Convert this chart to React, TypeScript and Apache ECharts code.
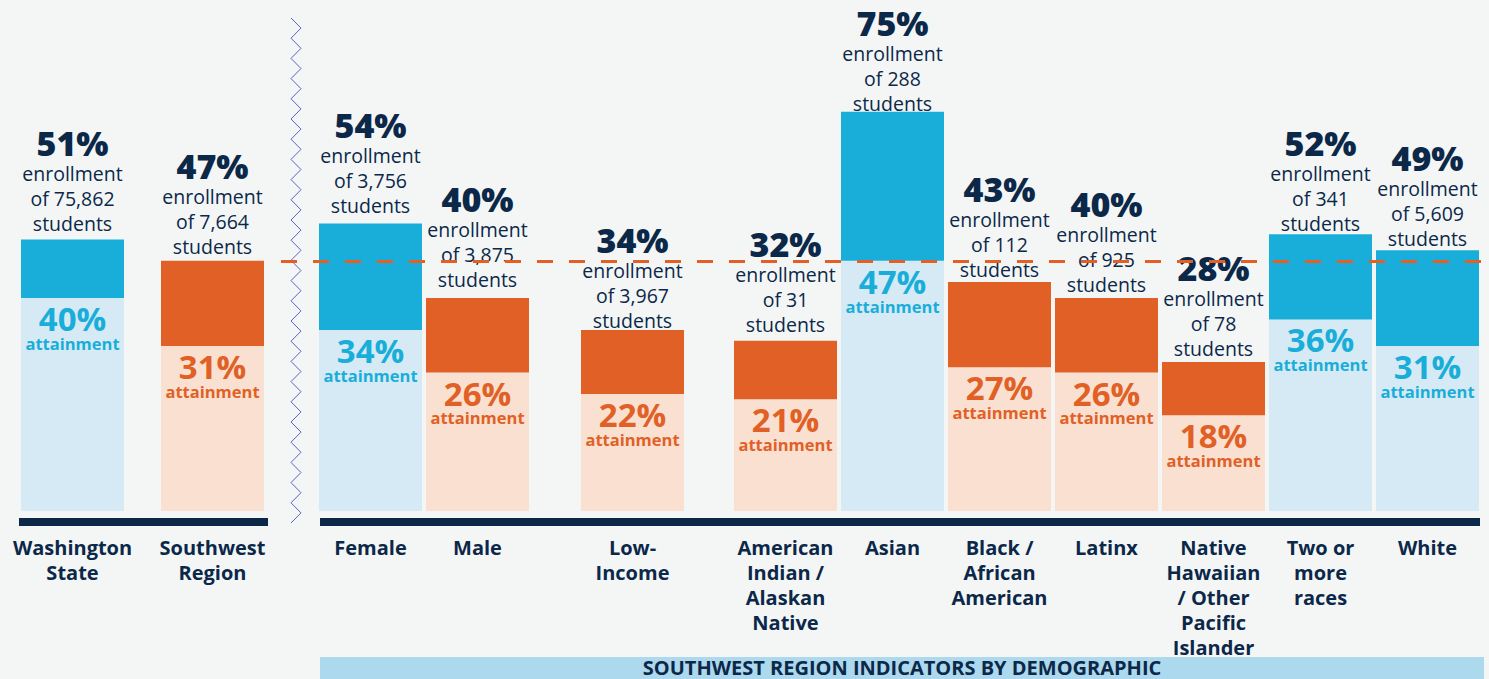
import React, { useEffect, useRef } from "react";
import * as echarts from "echarts";

// ---- data ----
const categories = [
  "Washington\nState",
  "Southwest\nRegion",
  "Female",
  "Male",
  "Low-\nIncome",
  "American\nIndian /\nAlaskan\nNative",
  "Asian",
  "Black /\nAfrican\nAmerican",
  "Latinx",
  "Native\nHawaiian\n/ Other\nPacific\nIslander",
  "Two or\nmore\nraces",
  "White",
];
const enrollmentPct = [51, 47, 54, 40, 34, 32, 75, 43, 40, 28, 52, 49];
const attainmentPct = [40, 31, 34, 26, 22, 21, 47, 27, 26, 18, 36, 31];
const studentCounts = ["75,862", "7,664", "3,756", "3,875", "3,967", "31", "288", "112", "925", "78", "341", "5,609"];
const panelOf = [0, 0, 1, 1, 2, 3, 3, 3, 3, 3, 3, 3];
const regionIndex = 1;
const bannerTitle = "SOUTHWEST REGION INDICATORS BY DEMOGRAPHIC";

// ---- layout / style ----
const panels = [
  { left: 2.5, width: 280 },
  { left: 317, width: 214 },
  { left: 579, width: 107 },
  { left: 732, width: 749 },
];
// hand-placed gap (px) between each bar top and its enrollment caption's last line centre
const enrollLabelGap = [16, 14, 18, 19, 10, 16, 8, 13, 14, 13, 11, 12];
const FONT = "'Open Sans', 'Noto Sans', sans-serif";
const NAVY = "#0c2849";
const BG = "#f4f6f6";
const BLUE = "#19aed9";
const BLUE_LIGHT = "#d5eaf5";
const ORANGE = "#e06026";
const ORANGE_LIGHT = "#fae0d0";
const Y_MAX = 96;
const GRID_TOP = 0;
const GRID_H = 511;

export default function App() {
  const ref = useRef<HTMLDivElement>(null);

  useEffect(() => {
    if (!ref.current) return;
    const chart = echarts.init(ref.current, undefined, { renderer: "svg" });
    const regionVal = enrollmentPct[regionIndex];

    const grids: any[] = [];
    const xAxes: any[] = [];
    const yAxes: any[] = [];
    const series: any[] = [];

    panels.forEach((p, gi) => {
      const idx = categories.map((_, i) => i).filter((i) => panelOf[i] === gi);
      grids.push({ left: p.left, width: p.width, top: GRID_TOP, height: GRID_H, containLabel: false });
      xAxes.push({
        type: "category",
        gridIndex: gi,
        data: idx.map((i) => categories[i]),
        axisLine: { show: false },
        axisTick: { show: false },
        axisLabel: {
          interval: 0,
          color: NAVY,
          fontWeight: "bold",
          fontSize: 20,
          lineHeight: 25,
          margin: 24,
          fontFamily: FONT,
        },
      });
      yAxes.push({ type: "value", gridIndex: gi, min: 0, max: Y_MAX, show: false, splitLine: { show: false } });

      const isHigh = (i: number) => enrollmentPct[i] > regionVal;

      series.push({
        type: "bar",
        xAxisIndex: gi,
        yAxisIndex: gi,
        stack: "s" + gi,
        barWidth: 103,
        z: 2,
        data: idx.map((i) => ({
          value: attainmentPct[i],
          itemStyle: { color: isHigh(i) ? BLUE_LIGHT : ORANGE_LIGHT },
          label: {
            show: true,
            position: "insideTop",
            distance: 4,
            formatter: `{a|${attainmentPct[i]}%}\n{b|attainment}`,
            rich: {
              a: { fontSize: 33, fontWeight: "bold", color: isHigh(i) ? BLUE : ORANGE, lineHeight: 33, fontFamily: FONT, align: "center" },
              b: { fontSize: 16.5, fontWeight: "bold", color: isHigh(i) ? BLUE : ORANGE, lineHeight: 16.5, fontFamily: FONT, align: "center" },
            },
          },
        })),
      });
      series.push({
        type: "bar",
        xAxisIndex: gi,
        yAxisIndex: gi,
        stack: "s" + gi,
        barWidth: 103,
        z: 2,
        data: idx.map((i) => ({
          value: enrollmentPct[i] - attainmentPct[i],
          itemStyle: { color: isHigh(i) ? BLUE : ORANGE },
          label: {
            show: true,
            position: "top",
            distance: 0,
            offset: [0, 12.5 - enrollLabelGap[i]],
            formatter: `{p|${enrollmentPct[i]}%}\n{t|enrollment}\n{t|of ${studentCounts[i]}}\n{t|students}`,
            rich: {
              p: { fontSize: 34, fontWeight: 800, color: NAVY, lineHeight: 36, fontFamily: FONT, align: "center" },
              t: { fontSize: 19.5, color: NAVY, lineHeight: 25, fontFamily: FONT, align: "center" },
            },
          },
        })),
      });
    });

    // reference line grid (Southwest region enrollment)
    const lg = panels.length;
    grids.push({ left: 281, right: 0, top: GRID_TOP, height: GRID_H });
    xAxes.push({ type: "value", gridIndex: lg, min: 0, max: 1, show: false });
    yAxes.push({ type: "value", gridIndex: lg, min: 0, max: Y_MAX, show: false, splitLine: { show: false } });
    series.push({
      type: "scatter",
      xAxisIndex: lg,
      yAxisIndex: lg,
      symbolSize: 0,
      z: 5,
      silent: true,
      data: [[0.5, regionVal]],
      markLine: {
        silent: true,
        symbol: "none",
        label: { show: false },
        lineStyle: { color: ORANGE, type: [16, 16], width: 3 },
        data: [{ yAxis: regionVal }],
      },
    });

    // zigzag separator
    const zig: number[][] = [];
    const periods = 25;
    const y0 = 18;
    const y1 = 523;
    const step = (y1 - y0) / periods;
    for (let k = 0; k <= periods; k++) {
      zig.push([291, y0 + k * step]);
      if (k < periods) zig.push([301, y0 + k * step + step / 2]);
    }

    chart.setOption({
      animation: false,
      backgroundColor: BG,
      grid: grids,
      xAxis: xAxes,
      yAxis: yAxes,
      series,
      graphic: [
        { type: "polyline", shape: { points: zig }, style: { stroke: "#5c62c4", lineWidth: 1, fill: null }, silent: true },
        { type: "rect", shape: { x: 19, y: 518, width: 249, height: 8 }, style: { fill: NAVY }, silent: true },
        { type: "rect", shape: { x: 320, y: 518, width: 1160, height: 8 }, style: { fill: NAVY }, silent: true },
        { type: "rect", shape: { x: 320, y: 657, width: 1164, height: 22 }, style: { fill: "#acd9ee" }, silent: true },
        {
          type: "text",
          x: 902,
          y: 667,
          style: {
            text: bannerTitle,
            fill: NAVY,
            font: `bold 20px ${FONT}`,
            textAlign: "center",
            textVerticalAlign: "middle",
          },
          silent: true,
        },
      ],
    });

    return () => chart.dispose();
  }, []);

  return (
    <div
      ref={ref}
      style={{ position: "absolute", left: 0, top: 0, width: 1489, height: 679, background: BG }}
    />
  );
}
